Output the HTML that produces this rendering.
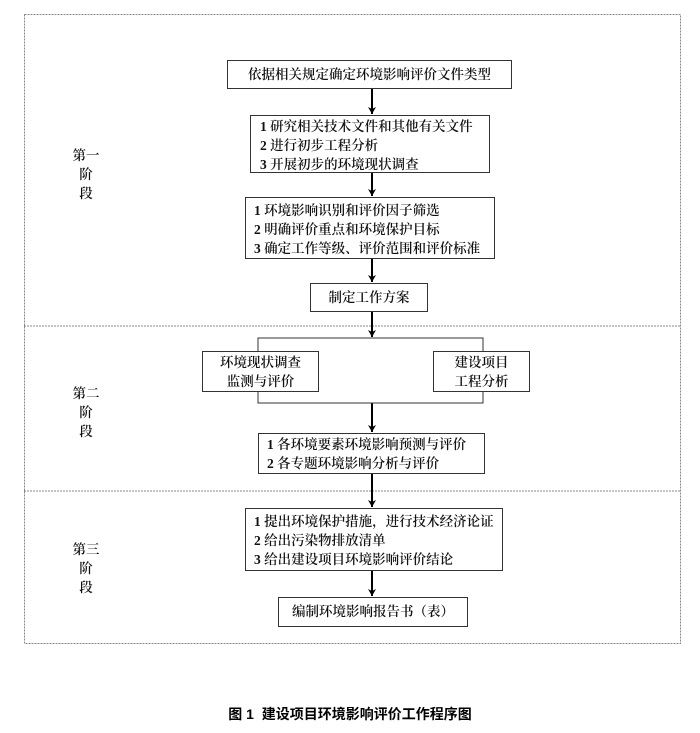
<!DOCTYPE html>
<html><head><meta charset="utf-8"><style>
body{margin:0;background:#fff;width:700px;height:733px;position:relative;font-family:"Liberation Serif","Noto Serif CJK SC",serif;color:#000}
.b{position:absolute;border:1px solid #333;box-sizing:border-box;font-size:13.5px;font-weight:600;line-height:19px;background:#fff;white-space:nowrap;color:#111}
.c{text-align:center}
.s{position:absolute;left:68px;width:36px;font-size:13.5px;font-weight:600;line-height:19px;text-align:center;color:#111}
.t{position:absolute;top:704px;left:0;width:700px;text-align:center;font-weight:bold;font-size:14px;font-family:"Liberation Sans","Noto Sans CJK SC",sans-serif}
</style></head><body>
<svg width="700" height="733" style="position:absolute;left:0;top:0">
<defs><marker id="a" markerWidth="8" markerHeight="8" refX="7" refY="4" orient="auto" markerUnits="userSpaceOnUse"><path d="M0,0 L7,4 L0,8 L2,4 Z" fill="#000"/></marker></defs>
<rect x="24.5" y="14.5" width="656" height="629" fill="none" stroke="#888" stroke-dasharray="2,1"/>
<line x1="24" y1="326" x2="681" y2="326" stroke="#888" stroke-dasharray="2,1"/>
<line x1="24" y1="491" x2="681" y2="491" stroke="#888" stroke-dasharray="2,1"/>
<g stroke="#000" stroke-width="2" marker-end="url(#a)">
<line x1="372" y1="88" x2="372" y2="114"/>
<line x1="372" y1="172" x2="372" y2="196"/>
<line x1="372" y1="258" x2="372" y2="282"/>
<line x1="372" y1="311" x2="372" y2="337"/>
<line x1="372" y1="403" x2="372" y2="432"/>
<line x1="372" y1="473" x2="372" y2="507"/>
<line x1="372" y1="570" x2="372" y2="596"/>
</g>
<polyline points="258,351 258,338 483,338 483,351" fill="none" stroke="#333"/>
<polyline points="258,391 258,403 483,403 483,391" fill="none" stroke="#333"/>
</svg>
<div class="b c" style="left:227px;top:60px;width:285px;height:29px;line-height:27px">依据相关规定确定环境影响评价文件类型</div>
<div class="b" style="left:250px;top:115px;width:240px;height:58px;padding:1px 0 0 9px">1 研究相关技术文件和其他有关文件<br>2 进行初步工程分析<br>3 开展初步的环境现状调查</div>
<div class="b" style="left:245px;top:197px;width:250px;height:62px;padding:3px 0 0 8px">1 环境影响识别和评价因子筛选<br>2 明确评价重点和环境保护目标<br>3 确定工作等级、评价范围和评价标准</div>
<div class="b c" style="left:310px;top:283px;width:118px;height:29px;line-height:27px">制定工作方案</div>
<div class="b c" style="left:202px;top:351px;width:117px;height:41px;padding-top:1px">环境现状调查<br>监测与评价</div>
<div class="b c" style="left:433px;top:351px;width:97px;height:41px;padding-top:1px">建设项目<br>工程分析</div>
<div class="b" style="left:258px;top:433px;width:227px;height:41px;padding:1px 0 0 8px">1 各环境要素环境影响预测与评价<br>2 各专题环境影响分析与评价</div>
<div class="b" style="left:245px;top:508px;width:258px;height:63px;padding:3px 0 0 8px">1 提出环境保护措施，进行技术经济论证<br>2 给出污染物排放清单<br>3 给出建设项目环境影响评价结论</div>
<div class="b c" style="left:278px;top:597px;width:190px;height:30px;line-height:28px">编制环境影响报告书（表）</div>
<div class="s" style="top:146px">第一<br>阶<br>段</div>
<div class="s" style="top:384px">第二<br>阶<br>段</div>
<div class="s" style="top:540px">第三<br>阶<br>段</div>
<div class="t">图 1&nbsp; 建设项目环境影响评价工作程序图</div>
</body></html>
